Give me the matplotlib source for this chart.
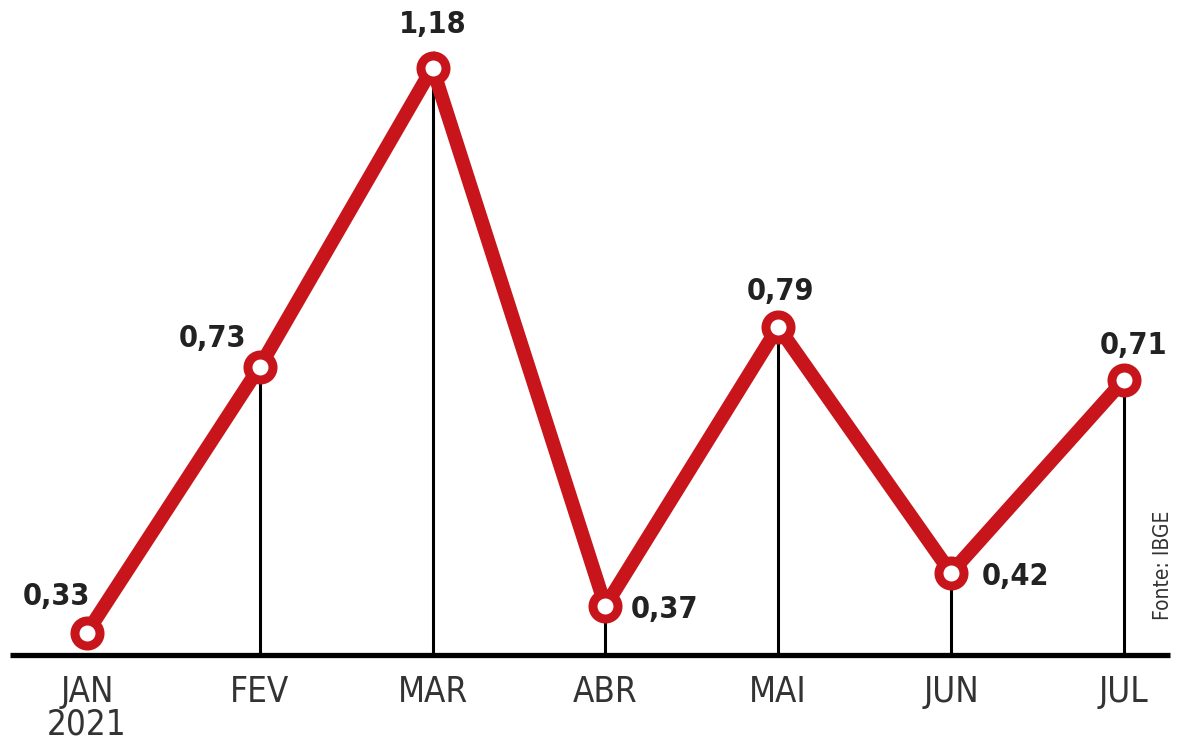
import numpy as np
import matplotlib
matplotlib.use("Agg")
import matplotlib.pyplot as plt

months = ["JAN\n2021", "FEV", "MAR", "ABR", "MAI", "JUN", "JUL"]
values = [0.33, 0.73, 1.18, 0.37, 0.79, 0.42, 0.71]
value_labels = ["0,33", "0,73", "1,18", "0,37", "0,79", "0,42", "0,71"]

# label offsets in pixels from each point
label_offsets = [(-30, 36), (-47, 28), (0, 43), (59, -3), (2, 35), (65, -4), (10, 35)]

red = "#c8151c"
base = 0.297

plt.rcParams["font.family"] = ["DejaVu Sans"]
plt.rcParams["font.stretch"] = "condensed"

fig = plt.figure(figsize=(11.91, 7.44), dpi=100)
ax = fig.add_axes([0, 0, 1, 1])
ax.set_xlim(-0.503, 6.389)
ax.set_ylim(0.1625, 1.282)
ax.axis("off")

x = np.arange(len(values))

# stems from the baseline up to each point
ax.vlines(x[1:], base, values[1:], color="black", lw=2.2, zorder=1)
ax.plot([-0.445, 6.267], [base, base], color="black", lw=3.8, solid_capstyle="butt", zorder=1)

ax.plot(x, values, color=red, lw=10, solid_joinstyle="miter", zorder=2)
ax.plot(x, values, "o", ms=18, mfc="white", mec=red, mew=6.5, zorder=3)

for xi, v, lab, (dx, dy) in zip(x, values, value_labels, label_offsets):
    ax.annotate(lab, (xi, v), xytext=(dx, dy), textcoords="offset pixels",
                ha="center", va="center", fontsize=22, fontweight="bold",
                fontstretch="condensed", color="#222222")

for xi, m in zip(x, months):
    ax.annotate(m, (xi, base), xytext=(0, -20), textcoords="offset pixels",
                ha="center", va="top", fontsize=25, fontstretch="condensed",
                color="#333333", linespacing=0.95)

fig.text(1163 / 1191, 1 - 565 / 744, "Fonte: IBGE", rotation=90, ha="center", va="center",
         fontsize=15, fontstretch="condensed", color="#333333")

fig.savefig("out.png", dpi=100)
